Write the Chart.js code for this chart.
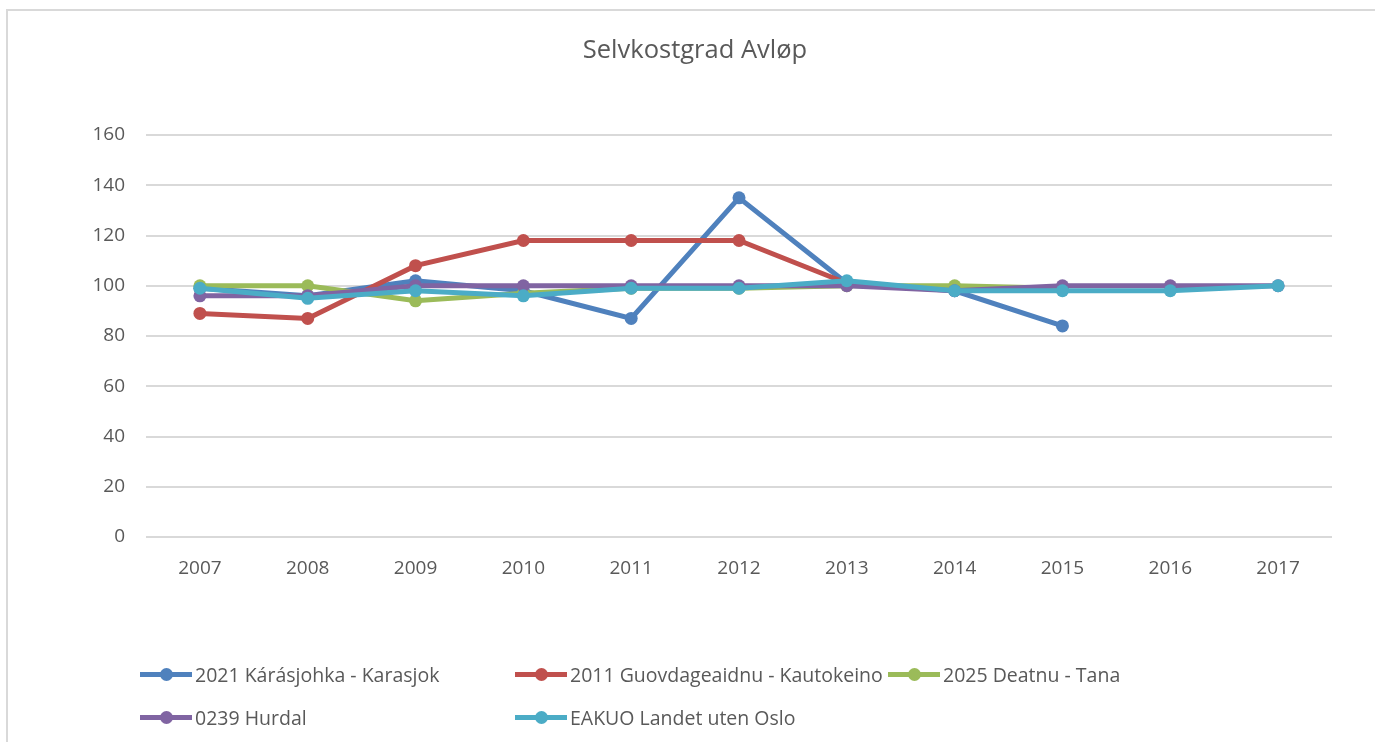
<!DOCTYPE html>
<html>
<head>
<meta charset="utf-8">
<script src="https://cdn.jsdelivr.net/npm/chart.js@4"></script>
<style>
  html, body { margin: 0; padding: 0; background: #fff; }
  #wrap { position: relative; width: 1375px; height: 742px; overflow: hidden; }
  #frame { position: absolute; left: 6px; top: 9px; width: 1400px; height: 760px;
           border-top: 2px solid #d9d9d9; border-left: 2px solid #d9d9d9; }
  canvas { position: absolute; left: 0; top: 0; }
  .lg { position: absolute; height: 20px; display: flex; align-items: center;
        font-family: "Open Sans", sans-serif; font-size: 19.5px; color: #595959; white-space: nowrap; }
  .sym { position: relative; width: 52px; height: 20px; margin-right: 3px; }
  .sym .ln { position: absolute; left: 0; right: 0; top: 7.5px; height: 5px; }
  .sym .dt { position: absolute; left: 19.5px; top: 3.5px; width: 13px; height: 13px; border-radius: 50%; }
</style>
</head>
<body>
<div id="wrap">
  <div id="frame"></div>
  <canvas id="chartAvlop" width="1375" height="742"></canvas>
  <div id="legend"></div>
</div>
<script>
const years = ['2007', '2008', '2009', '2010', '2011', '2012', '2013', '2014', '2015', '2016', '2017'];

const karasjok   = [99, 96, 102, 98, 87, 135, 101, 98, 84, null, null];
const kautokeino = [89, 87, 108, 118, 118, 118, 101, null, null, null, null];
const tana       = [100, 100, 94, 97, 99, 99, 100, 100, 99, null, null];
const hurdal     = [96, 96, 100, 100, 100, 100, 100, 98, 100, 100, 100];
const landet     = [99, 95, 98, 96, 99, 99, 102, 98, 98, 98, 100];

const seriesNames = [
    '2021 Kárásjohka - Karasjok',
    '2011 Guovdageaidnu - Kautokeino',
    '2025 Deatnu - Tana',
    '0239 Hurdal',
    'EAKUO Landet uten Oslo'
];
const seriesColors = ['#4f81bd', '#c0504d', '#9bbb59', '#8064a2', '#4bacc6'];
const seriesData = [karasjok, kautokeino, tana, hurdal, landet];

const textColor = '#595959';
const fontFamily = '"Open Sans", sans-serif';

// last series on top, like the spreadsheet draws it
const datasets = seriesData.map((data, i) => ({
    label: seriesNames[i],
    data,
    borderColor: seriesColors[i],
    backgroundColor: seriesColors[i],
    borderWidth: 5,
    pointRadius: 6.5,
    pointHoverRadius: 6.5,
    pointBorderWidth: 0,
    tension: 0,
    fill: false,
    spanGaps: false,
    order: seriesData.length - i
}));

const chart = new Chart(document.getElementById('chartAvlop'), {
    type: 'line',
    data: { labels: years, datasets },
    options: {
        responsive: false,
        animation: false,
        devicePixelRatio: 1,
        // left/right padding also centres the title over the frame
        layout: { padding: { left: 58, right: 43, top: 0, bottom: 0 } },
        plugins: {
            legend: { display: false },
            tooltip: { enabled: false },
            title: {
                display: true,
                text: 'Selvkostgrad Avløp',
                color: textColor,
                font: { family: fontFamily, size: 25.5, weight: 'normal' },
                padding: { top: 35, bottom: 69.4 }
            }
        },
        scales: {
            x: {
                offset: true,
                grid: { display: false, drawTicks: false },
                border: { display: false },
                ticks: {
                    color: textColor,
                    padding: 20,
                    font: { family: fontFamily, size: 19 }
                },
                afterFit: s => { s.height = 205; }
            },
            y: {
                min: 0,
                max: 160,
                grid: { color: '#d9d9d9', lineWidth: 2, drawTicks: false },
                border: { display: false },
                ticks: {
                    stepSize: 20,
                    color: textColor,
                    padding: 21,
                    font: { family: fontFamily, size: 19 }
                },
                afterFit: s => { s.width = 88; }
            }
        }
    }
});

// legend laid out in fixed columns below the plot
const legendPos = [
    [140, 674], [515, 674], [888, 674],
    [140, 717], [515, 717]
];
const legendBox = document.getElementById('legend');
chart.data.datasets.forEach((ds, i) => {
    const item = document.createElement('div');
    item.className = 'lg';
    item.style.left = legendPos[i][0] + 'px';
    item.style.top = (legendPos[i][1] - 10) + 'px';
    item.innerHTML = '<div class="sym"><div class="ln" style="background:' + ds.borderColor +
        '"></div><div class="dt" style="background:' + ds.borderColor + '"></div></div><span>' +
        ds.label + '</span>';
    legendBox.appendChild(item);
});
</script>
</body>
</html>
